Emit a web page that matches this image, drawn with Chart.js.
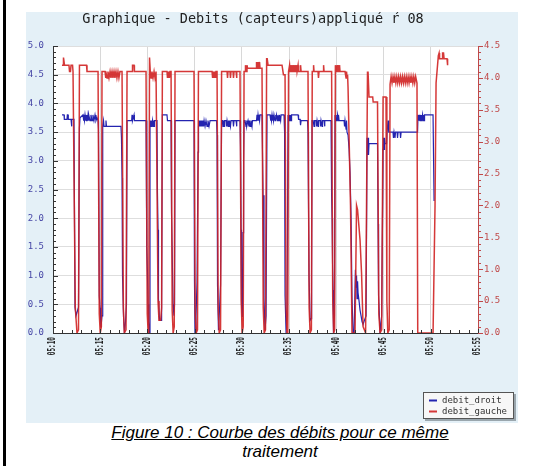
<!DOCTYPE html>
<html>
<head>
<meta charset="utf-8">
<script src="https://cdn.jsdelivr.net/npm/chart.js@4.4.1/dist/chart.umd.min.js"></script>
<style>
  body { margin: 0; background: #fff; width: 534px; height: 466px; overflow: hidden; position: relative; }
  #bar { position: absolute; left: 3px; top: 0; width: 3px; height: 466px; background: #000; }
  #panel { position: absolute; left: 26px; top: 12px; width: 492px; height: 411px; background: #e4f0f7; }
  #c { position: absolute; left: 26px; top: 12px; }
  #caption { position: absolute; left: 30px; top: 423px; width: 500px; text-align: center;
             font: italic 17px "Liberation Sans", Arial, sans-serif; line-height: 19px; color: #000; }
  #caption u { text-decoration: underline; }
</style>
</head>
<body>
<div id="bar"></div>
<div id="panel"></div>
<canvas id="c" width="492" height="411"></canvas>
<div id="caption"><u>Figure 10 : Courbe des débits pour ce même</u><br>traitement</div>
<script>
"use strict";

var titleText = 'Graphique - Debits (capteurs)appliqué ŕ 08';
var seriesNames = ['debit_droit', 'debit_gauche'];

// x = minutes after 05:00
var xTicks = [10, 15, 20, 25, 30, 35, 40, 45, 50, 55];
var leftTicks = [0, 0.5, 1, 1.5, 2, 2.5, 3, 3.5, 4, 4.5, 5];
var rightTicks = [0, 0.5, 1, 1.5, 2, 2.5, 3, 3.5, 4, 4.5];

// debit_droit (left axis)
var droitTime = [
    10.95, 11.17, 11.20, 11.48, 11.52, 11.59, 11.62, 11.91, 11.95, 12.01, 12.22,
    12.33, 12.44, 12.70, 12.80, 12.86,
    13.18, 13.22, 13.28, 13.33, 13.39, 13.44, 13.49, 13.55, 13.60, 13.65, 13.71, 13.76, 13.81, 13.92, 14.02, 14.13, 14.23, 14.34, 14.45, 14.55, 14.66, 14.77,
    14.82, 14.90, 14.98, 15.08, 15.19, 15.24, 15.29, 15.35, 15.40, 15.56, 15.61, 15.66, 17.20,
    17.25, 17.31, 17.36, 17.47, 17.57, 17.68, 17.78, 17.84,
    18.33, 18.37, 18.42, 18.58, 18.62, 19.85, 19.90, 19.95, 20.00, 20.06, 20.12, 20.20, 20.27,
    20.32, 20.38, 20.43, 20.48, 20.54, 20.59, 20.64, 20.70, 20.75, 21.01,
    21.06, 21.12, 21.17, 21.28, 21.44, 21.50, 21.58, 22.07, 22.12, 22.50,
    22.55, 22.60, 22.71, 22.81, 22.87, 22.92, 24.93,
    24.98, 25.04, 25.14, 25.25, 25.36, 25.41,
    25.46, 25.52, 25.57, 25.62, 25.68, 25.73, 25.78, 25.84, 25.89, 25.94, 26.00, 26.10, 26.20, 26.31, 26.41, 26.52, 26.63, 27.32,
    27.37, 27.42, 27.52, 27.63, 27.74, 27.85,
    27.95, 28.00, 28.05, 28.11, 28.16, 28.32, 28.37, 28.43, 28.53, 28.58, 28.64, 28.69, 28.79, 28.85, 29.06, 29.11, 29.17, 29.38, 29.43, 29.48, 29.80,
    29.85, 29.91, 29.96, 30.05, 30.12, 30.18, 30.23,
    30.33, 30.44, 30.49, 30.54, 30.65, 30.75, 30.80, 30.86, 30.96, 31.07, 31.12, 31.55, 31.60, 31.66, 31.71, 31.76, 31.81, 31.87, 31.92, 32.13,
    32.18, 32.24, 32.34, 32.45, 32.56, 32.66, 32.98,
    33.03, 33.08, 33.13, 33.19, 33.24, 33.29, 33.35, 33.40, 33.51, 33.56, 33.61, 33.66, 33.77, 33.82, 33.93, 33.98, 34.10, 34.15, 34.46,
    34.52, 34.57, 34.68, 34.78, 34.89, 34.99, 35.05, 35.10, 35.15, 35.21, 35.26, 35.95, 36.00, 36.16, 36.21, 36.27, 36.95,
    37.00, 37.05, 37.11, 37.22, 37.32, 37.38, 37.43,
    37.54, 37.64, 37.70, 37.85, 37.90, 37.96, 38.06, 38.11, 38.28, 38.33, 38.38, 38.49, 38.54, 38.70, 38.75, 38.80, 39.44,
    39.50, 39.55, 39.60, 39.65, 39.70, 39.80, 39.86,
    39.97, 40.02, 40.07, 40.13, 40.18, 40.23, 40.29, 40.82, 40.87, 40.92, 41.03, 41.08, 41.13, 41.24,
    41.35, 41.45, 41.56, 41.66, 41.77, 41.88, 42.02, 42.09, 42.14, 42.19, 42.25, 42.30, 42.41, 42.51, 42.62, 42.72, 42.83, 42.93, 43.04, 43.15, 43.25,
    43.30, 43.36, 43.41, 43.46, 44.36,
    44.42, 44.47, 44.63, 44.80, 44.95, 45.00, 45.05, 45.10, 45.16, 45.32, 45.37, 45.48, 45.55, 45.69,
    46.00, 46.05, 46.11, 46.21, 46.27, 46.43, 46.48, 46.54, 46.75, 46.80, 46.86, 48.60,
    48.65, 48.75, 48.81, 48.86, 48.91, 48.97, 49.02, 49.07, 49.13, 49.18, 49.23, 49.29, 49.34, 50.24, 50.35
];
var droitValue = [
    3.80, 3.80, 3.72, 3.72, 3.80, 3.80, 3.72, 3.72, 3.60, 3.72, 3.72,
    0.45, 0.30, 0.45, 3.57, 3.75,
    3.80, 3.70, 3.80, 3.70, 3.80, 3.70, 3.80, 3.70, 3.80, 3.70, 3.80, 3.70, 3.80, 3.70, 3.80, 3.70, 3.80, 3.70, 3.80, 3.70, 3.75, 3.70,
    3.55, 0.65, 0.44, 0.10, 0.30, 3.60, 3.60, 3.70, 3.60, 3.60, 3.70, 3.60, 3.60,
    3.40, 2.70, 1.00, 0.28, 0.00, 0.20, 0.50, 3.70,
    3.70, 3.80, 3.70, 3.80, 3.70, 3.70, 3.35, 1.50, 1.06, 0.50, 0.20, 0.00, 3.60,
    3.70, 3.60, 3.70, 3.60, 3.70, 3.60, 3.70, 3.60, 3.70, 3.70,
    2.45, 1.80, 0.60, 0.22, 0.22, 0.50, 3.80, 3.80, 3.70, 3.70,
    2.10, 1.60, 0.50, 0.30, 0.50, 3.70, 3.70,
    0.90, 0.00, 0.28, 0.88, 3.15, 3.60,
    3.70, 3.60, 3.70, 3.60, 3.70, 3.60, 3.70, 3.60, 3.70, 3.60, 3.70, 3.60, 3.70, 3.60, 3.70, 3.60, 3.70, 3.70,
    3.45, 0.84, 0.05, 0.40, 0.84, 3.70,
    3.70, 3.60, 3.70, 3.60, 3.70, 3.70, 3.60, 3.70, 3.60, 3.70, 3.60, 3.70, 3.60, 3.70, 3.70, 3.60, 3.70, 3.70, 3.60, 3.70, 3.70,
    3.25, 1.80, 0.50, 0.28, 1.75, 3.00, 3.70,
    3.70, 3.60, 3.70, 3.60, 3.70, 3.60, 3.70, 3.60, 3.70, 3.60, 3.70, 3.70, 3.80, 3.70, 3.80, 3.70, 3.80, 3.70, 3.80, 3.80,
    3.20, 2.40, 0.60, 0.05, 0.30, 3.80, 3.80,
    3.70, 3.80, 3.70, 3.80, 3.70, 3.80, 3.70, 3.80, 3.70, 3.80, 3.70, 3.80, 3.70, 3.80, 3.70, 3.80, 3.70, 3.80, 3.80,
    3.50, 0.66, 0.00, 0.30, 3.80, 3.70, 3.80, 3.70, 3.80, 3.70, 3.80, 3.80, 3.72, 3.72, 3.62, 3.70, 3.70,
    3.50, 2.30, 1.00, 0.22, 0.25, 1.00, 3.70,
    3.70, 3.60, 3.70, 3.70, 3.60, 3.70, 3.60, 3.70, 3.70, 3.60, 3.70, 3.60, 3.70, 3.70, 3.60, 3.70, 3.70,
    2.40, 2.00, 1.22, 0.75, 0.00, 0.30, 3.80,
    3.70, 3.80, 3.70, 3.80, 3.70, 3.80, 3.70, 3.70, 3.60, 3.70, 3.55, 3.70, 3.50, 3.45,
    3.20, 2.80, 2.00, 0.60, 0.00, 0.00, 1.10, 0.80, 1.00, 0.60, 0.90, 0.70, 0.55, 0.40, 0.30, 0.20, 0.15, 0.20, 0.25, 0.30, 3.40,
    3.10, 3.40, 3.10, 3.30, 3.30,
    1.90, 0.66, 0.00, 0.30, 3.20, 3.40, 3.20, 3.40, 3.30, 3.30, 3.50, 3.70, 3.50, 3.50,
    3.50, 3.40, 3.50, 3.40, 3.50, 3.50, 3.40, 3.50, 3.50, 3.40, 3.50, 3.50,
    3.80, 3.70, 3.80, 3.70, 3.80, 3.70, 3.80, 3.70, 3.80, 3.70, 3.80, 3.70, 3.80, 3.80, 2.30
];

// debit_gauche (right axis)
var gaucheTime = [
    10.95, 11.06, 11.11, 11.22, 11.69, 11.75, 11.85, 11.91, 12.07, 12.12, 12.22,
    12.36, 12.54, 12.70, 12.80, 13.55, 13.60, 14.77, 14.90, 15.00, 15.12, 15.19,
    15.51, 15.56, 15.61, 15.72, 15.82, 15.93, 16.04, 16.14, 16.25, 16.35, 16.46, 16.56, 16.67, 16.77, 16.88, 16.98, 17.09, 17.31,
    17.45, 17.55, 17.73, 17.84, 18.37, 18.42, 18.58, 18.62, 19.85, 19.98, 20.08, 20.14, 20.22, 20.30,
    20.38, 20.48, 20.59, 20.70, 20.80, 20.91, 21.01,
    21.12, 21.22, 21.40, 21.50, 21.58,
    22.07, 22.12, 22.18, 22.23, 22.28, 22.33, 22.39, 22.50, 22.62, 22.72, 22.84, 22.92,
    24.93, 25.06, 25.16, 25.30, 25.40,
    26.84, 26.90, 26.95, 27.00, 27.05, 27.11, 27.16, 27.21, 27.26, 27.37,
    27.49, 27.60, 27.74, 27.85,
    28.43, 28.48, 28.53, 28.74, 28.79, 28.85, 29.06, 29.11, 29.17, 29.38, 29.43, 29.48, 29.80,
    29.93, 30.03, 30.14, 30.23, 30.33, 30.38, 30.44, 30.54, 30.60, 31.50,
    31.55, 31.60, 31.66, 31.71, 31.76, 31.81, 31.87, 31.92, 32.13,
    32.26, 32.36, 32.50, 32.62, 32.68, 32.77, 34.25, 34.40, 34.57,
    34.68, 34.78, 34.86, 34.94,
    35.05, 35.10, 35.15, 35.21, 35.26, 35.31, 35.37, 35.42, 35.47, 35.52, 35.58, 35.63, 35.68, 35.73, 35.79, 35.84, 35.95, 36.00, 36.16, 36.21, 36.27, 37.00,
    37.12, 37.22, 37.36, 37.45, 37.54, 37.59, 37.64, 38.06, 38.11, 38.17, 38.59, 38.65, 38.70, 39.50,
    39.62, 39.72, 39.82, 39.90, 39.97, 40.02, 40.07, 40.13, 40.18, 40.23, 40.29, 40.34, 40.39, 40.92,
    41.03, 41.08, 41.13, 41.19, 41.24, 41.50, 41.66, 41.98, 42.14, 42.25, 42.51, 42.67, 42.83, 43.10, 43.30, 43.36,
    43.46, 43.85, 43.90, 44.36, 44.50, 44.63, 44.80, 44.95, 45.26, 45.35, 45.45, 45.60, 45.69,
    45.80, 45.90, 46.00, 46.10, 46.20, 46.30, 46.40, 46.50, 46.60, 46.70, 46.80, 46.90, 47.00, 47.10, 47.20, 47.30, 47.40, 47.50, 47.60, 47.70, 47.80, 47.90, 48.00, 48.10, 48.20, 48.30, 48.40, 48.54,
    48.62, 50.24, 50.45, 50.56, 50.80, 50.88, 50.93, 51.20, 51.25, 51.35, 51.41, 51.72, 51.78
];
var gaucheValue = [
    4.20, 4.20, 4.32, 4.20, 4.20, 4.10, 4.10, 4.20, 4.20, 4.10, 4.10,
    0.40, 0.00, 0.05, 4.20, 4.20, 4.10, 4.10, 0.30, 0.00, 0.10, 4.10,
    4.10, 4.00, 4.10, 4.00, 4.10, 4.00, 4.10, 4.00, 4.10, 4.00, 4.10, 4.00, 4.10, 4.00, 4.10, 4.00, 4.10, 4.10,
    0.40, 0.00, 0.05, 4.10, 4.10, 4.20, 4.20, 4.10, 4.10, 0.30, 0.00, 0.10, 4.32, 4.10,
    4.00, 4.10, 4.00, 4.10, 4.00, 4.10, 4.10,
    0.50, 0.20, 0.20, 0.40, 4.10,
    4.10, 4.00, 4.10, 4.00, 4.10, 4.00, 4.10, 4.10, 0.35, 0.00, 0.10, 4.10,
    4.10, 0.30, 0.00, 0.05, 4.10,
    4.10, 4.00, 4.10, 4.00, 4.10, 4.00, 4.10, 4.00, 4.10, 4.10,
    0.40, 0.00, 0.05, 4.10,
    4.10, 4.00, 4.10, 4.10, 4.00, 4.10, 4.10, 4.00, 4.10, 4.10, 4.00, 4.10, 4.10,
    0.50, 0.00, 0.10, 4.10, 4.10, 4.20, 4.10, 4.20, 4.15, 4.15,
    4.25, 4.15, 4.25, 4.15, 4.25, 4.15, 4.25, 4.15, 4.15,
    0.40, 0.00, 0.05, 4.30, 4.30, 4.20, 4.20, 4.05, 4.05,
    0.40, 0.00, 0.05, 4.10,
    4.20, 4.10, 4.20, 4.10, 4.20, 4.10, 4.20, 4.10, 4.20, 4.10, 4.20, 4.10, 4.20, 4.10, 4.20, 4.10, 4.20, 4.10, 4.10, 4.20, 4.10, 4.10,
    0.40, 0.00, 0.05, 4.10, 4.10, 4.20, 4.10, 4.10, 4.00, 4.10, 4.10, 4.20, 4.10, 4.10,
    0.50, 0.00, 0.05, 4.20, 4.10, 4.20, 4.10, 4.20, 4.10, 4.20, 4.10, 4.20, 4.10, 4.10,
    4.00, 4.10, 4.00, 4.05, 3.85, 2.00, 0.00, 0.00, 2.00, 1.93, 1.46, 0.94, 0.10, 0.00, 4.09, 4.09,
    3.70, 3.70, 3.62, 3.62, 0.30, 0.00, 0.05, 3.70, 3.70, 0.50, 0.00, 0.05, 3.90,
    4.02, 3.92, 4.02, 3.92, 4.02, 3.92, 4.02, 3.92, 4.02, 3.92, 4.02, 3.92, 4.02, 3.92, 4.02, 3.92, 4.02, 3.92, 4.02, 3.92, 4.02, 3.92, 4.02, 3.92, 4.02, 3.92, 4.02, 3.92,
    0.00, 0.00, 2.00, 3.92, 4.35, 4.39, 4.30, 4.30, 4.39, 4.39, 4.30, 4.30, 4.20
];

var droitColor = '#2424b0';
var gaucheColor = 'rgba(208, 34, 34, 0.9)';

function toPoints(times, values) {
    var pts = [];
    var n = Math.min(times.length, values.length);
    for (var i = 0; i < n; i++) {
        pts.push({ x: times[i], y: values[i] });
    }
    return pts;
}

function fmtTime(v) {
    return '05:' + (v < 10 ? '0' : '') + v;
}

var decor = {
    id: 'decor',
    beforeDraw: function(chart) {
        var ctx = chart.ctx, a = chart.chartArea;
        ctx.save();
        ctx.fillStyle = '#ffffff';
        ctx.fillRect(a.left, a.top, a.right - a.left, a.bottom - a.top);
        ctx.restore();
    },
    afterDraw: function(chart) {
        var ctx = chart.ctx, a = chart.chartArea, s = chart.scales;
        var i, p, len;
        ctx.save();
        ctx.lineWidth = 1;

        // axis lines again, over the data
        ctx.strokeStyle = '#333';
        ctx.beginPath();
        ctx.moveTo(a.left + 0.5, a.top); ctx.lineTo(a.left + 0.5, a.bottom + 0.5);
        ctx.lineTo(a.right, a.bottom + 0.5);
        ctx.stroke();

        // left axis, inward ticks every 0.1
        for (i = 0; i <= 50; i++) {
            p = Math.round(s.yLeft.getPixelForValue(i / 10)) + 0.5;
            len = (i % 5 === 0) ? 5 : 3;
            ctx.beginPath(); ctx.moveTo(a.left, p); ctx.lineTo(a.left + len, p); ctx.stroke();
        }
        // bottom axis, ticks every minute
        for (i = 10; i <= 55; i++) {
            p = Math.round(s.x.getPixelForValue(i)) + 0.5;
            len = (i % 5 === 0) ? 4 : 3;
            ctx.beginPath(); ctx.moveTo(p, a.bottom); ctx.lineTo(p, a.bottom - len); ctx.stroke();
        }
        // right axis, outward ticks every 0.1
        ctx.strokeStyle = '#c04848';
        for (i = 0; i <= 45; i++) {
            p = Math.round(s.yRight.getPixelForValue(i / 10)) + 0.5;
            len = (i % 5 === 0) ? 5 : 3;
            ctx.beginPath(); ctx.moveTo(a.right, p); ctx.lineTo(a.right + len, p); ctx.stroke();
        }

        // x labels, rotated and condensed
        ctx.fillStyle = '#1e1e1e';
        ctx.font = 'bold 11px "DejaVu Sans Mono", monospace';
        ctx.textAlign = 'right';
        ctx.textBaseline = 'middle';
        xTicks.forEach(function(v) {
            ctx.save();
            ctx.translate(s.x.getPixelForValue(v) - 0.5, a.bottom + 4);
            ctx.rotate(-Math.PI / 2);
            ctx.scale(0.55, 1);
            ctx.fillText(fmtTime(v), 0, 0);
            ctx.restore();
        });

        // title
        ctx.fillStyle = '#222';
        ctx.font = '13.5px "DejaVu Sans Mono", monospace';
        ctx.textAlign = 'center';
        ctx.textBaseline = 'middle';
        ctx.fillText(titleText, 227, 7);

        // legend box
        var bx = 397, by = 380, bw = 91, bh = 27;
        ctx.fillStyle = '#9aa6ad';
        ctx.fillRect(bx + 2, by + 2, bw, bh);
        ctx.fillStyle = '#f7f7f7';
        ctx.fillRect(bx, by, bw, bh);
        ctx.strokeStyle = '#555';
        ctx.strokeRect(bx + 0.5, by + 0.5, bw - 1, bh - 1);
        ctx.font = '9px "DejaVu Sans Mono", monospace';
        ctx.textAlign = 'left';
        chart.data.datasets.forEach(function(ds, k) {
            var y = by + 8.5 + k * 11;
            ctx.strokeStyle = ds.borderColor;
            ctx.lineWidth = 2;
            ctx.beginPath(); ctx.moveTo(bx + 6, y); ctx.lineTo(bx + 14, y); ctx.stroke();
            ctx.fillStyle = '#333';
            ctx.fillText(ds.label, bx + 19, y);
        });
        ctx.restore();
    }
};

new Chart(document.getElementById('c'), {
    type: 'line',
    data: {
        datasets: [{
            label: seriesNames[0],
            data: toPoints(droitTime, droitValue),
            yAxisID: 'yLeft',
            borderColor: droitColor,
            borderWidth: 1.2,
            pointRadius: 0,
            tension: 0,
            order: 1
        }, {
            label: seriesNames[1],
            data: toPoints(gaucheTime, gaucheValue),
            yAxisID: 'yRight',
            borderColor: gaucheColor,
            borderWidth: 1.5,
            pointRadius: 0,
            tension: 0,
            order: 0
        }]
    },
    options: {
        responsive: false,
        animation: false,
        layout: { padding: { top: 34, left: 0, right: 0, bottom: 0 } },
        scales: {
            x: {
                type: 'linear',
                min: xTicks[0],
                max: xTicks[xTicks.length - 1],
                afterBuildTicks: function(scale) {
                    scale.ticks = xTicks.map(function(v) { return { value: v }; });
                },
                afterFit: function(scale) { scale.height = 90; },
                ticks: { display: false },
                grid: { color: '#d8d8d8', drawTicks: false },
                border: { color: '#333', width: 1 }
            },
            yLeft: {
                position: 'left',
                min: 0,
                max: 5,
                afterBuildTicks: function(scale) {
                    scale.ticks = leftTicks.map(function(v) { return { value: v }; });
                },
                afterFit: function(scale) { scale.width = 27; },
                ticks: {
                    callback: function(v) { return v.toFixed(1); },
                    padding: 9,
                    color: '#4646a6',
                    font: { family: '"DejaVu Sans Mono", monospace', size: 9 }
                },
                grid: { color: '#dedede', drawTicks: false },
                border: { color: '#333', width: 1 }
            },
            yRight: {
                position: 'right',
                min: 0,
                max: 4.5,
                afterBuildTicks: function(scale) {
                    scale.ticks = rightTicks.map(function(v) { return { value: v }; });
                },
                afterFit: function(scale) { scale.width = 40; },
                ticks: {
                    callback: function(v) { return v.toFixed(1); },
                    padding: 6,
                    color: '#c04848',
                    font: { family: '"DejaVu Sans Mono", monospace', size: 9 }
                },
                grid: { drawOnChartArea: false, drawTicks: false },
                border: { color: '#c04848', width: 1 }
            }
        },
        plugins: {
            legend: { display: false },
            title: { display: false },
            tooltip: { enabled: false }
        }
    },
    plugins: [decor]
});
</script>
</body>
</html>
